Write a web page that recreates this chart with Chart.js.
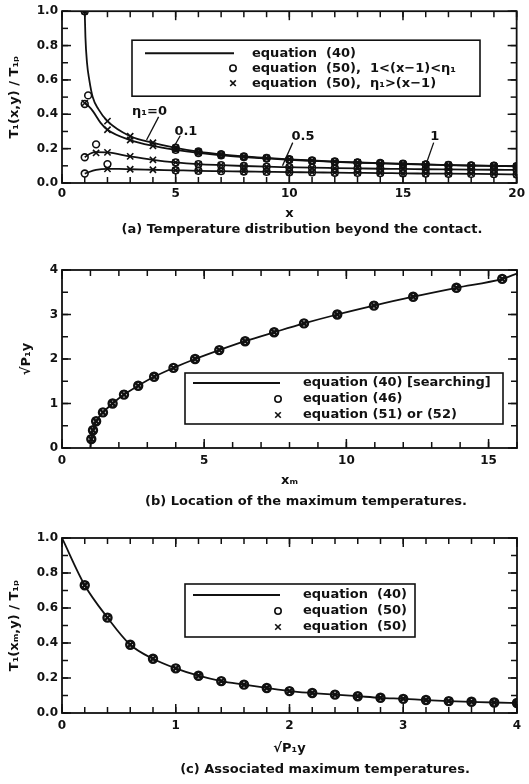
<!DOCTYPE html>
<html>
<head>
<meta charset="utf-8">
<script src="https://cdn.jsdelivr.net/npm/chart.js@4.4.1/dist/chart.umd.min.js"></script>
<style>
  html, body { margin: 0; padding: 0; background: #fff; }
  #wrap { position: relative; width: 529px; height: 784px; }
  canvas { position: absolute; left: 0; }
</style>
</head>
<body>
<div id="wrap">
  <canvas id="chartA" width="529" height="245" style="top:0"></canvas>
  <canvas id="chartB" width="529" height="265" style="top:255px"></canvas>
  <canvas id="chartC" width="529" height="259" style="top:525px"></canvas>
</div>
<script>
// ---- (a) temperature beyond the contact, read at integer x ----
const xInt = [1, 2, 3, 4, 5, 6, 7, 8, 9, 10, 11, 12, 13, 14, 15, 16, 17, 18, 19, 20];
const eta0Vals  = [1.00, 0.360, 0.272, 0.234, 0.205, 0.183, 0.167, 0.155, 0.146, 0.138, 0.131, 0.125, 0.120, 0.116, 0.112, 0.108, 0.105, 0.102, 0.100, 0.098];
const eta01Vals = [0.470, 0.310, 0.250, 0.216, 0.193, 0.175, 0.161, 0.151, 0.143, 0.135, 0.129, 0.123, 0.118, 0.114, 0.110, 0.107, 0.104, 0.101, 0.099, 0.097];
const eta05Vals = [0.150, 0.178, 0.155, 0.135, 0.120, 0.110, 0.104, 0.099, 0.095, 0.092, 0.089, 0.087, 0.085, 0.083, 0.082, 0.080, 0.079, 0.078, 0.077, 0.076];
const eta1Vals  = [0.055, 0.082, 0.080, 0.077, 0.074, 0.071, 0.069, 0.067, 0.065, 0.063, 0.062, 0.060, 0.059, 0.058, 0.056, 0.055, 0.054, 0.053, 0.052, 0.050];
// extra curve points close to the contact (between x=1 and x=2)
const near0X  = [1.03, 1.1, 1.2, 1.35, 1.6];
const near0Y  = [0.85, 0.70, 0.60, 0.50, 0.43];
const near01X = [1.35, 1.7];
const near01Y = [0.42, 0.35];
const near05X = [1.25, 1.5];
const near05Y = [0.172, 0.180];
const near1X  = [1.5, 2.5];
const near1Y  = [0.076, 0.082];
// separate eq.(50) points near the contact
const circNearX = [1, 1, 1, 1, 1.15, 1.5, 2];
const circNearY = [1.0, 0.46, 0.15, 0.055, 0.51, 0.225, 0.11];
const crossNearX = [1, 1, 1.5];
const crossNearY = [1.0, 0.465, 0.175];
const aXTicks = [0, 5, 10, 15, 20];
const aYTicks = [0, 0.2, 0.4, 0.6, 0.8, 1.0];

// ---- (b) location of the maximum temperatures ----
const bDepth = [0.2, 0.4, 0.6, 0.8, 1.0, 1.2, 1.4, 1.6, 1.8, 2.0, 2.2, 2.4, 2.6, 2.8, 3.0, 3.2, 3.4, 3.6, 3.8];
const bXm    = [1.03, 1.09, 1.20, 1.44, 1.78, 2.18, 2.68, 3.24, 3.92, 4.68, 5.53, 6.44, 7.46, 8.51, 9.68, 10.97, 12.35, 13.87, 15.48];
const bLineStart = { x: 1, y: 0 };
const bLineEnd = { x: 16, y: 3.92 };
const bXTicks = [0, 5, 10, 15];
const bYTicks = [0, 1, 2, 3, 4];

// ---- (c) associated maximum temperatures ----
const cDepth = [0.2, 0.4, 0.6, 0.8, 1.0, 1.2, 1.4, 1.6, 1.8, 2.0, 2.2, 2.4, 2.6, 2.8, 3.0, 3.2, 3.4, 3.6, 3.8, 4.0];
const cTemp  = [0.730, 0.545, 0.390, 0.310, 0.255, 0.213, 0.182, 0.162, 0.143, 0.125, 0.114, 0.105, 0.096, 0.087, 0.081, 0.074, 0.068, 0.064, 0.060, 0.057];
const cLineStart = { x: 0, y: 1.0 };
const cXTicks = [0, 1, 2, 3, 4];
const cYTicks = [0, 0.2, 0.4, 0.6, 0.8, 1.0];

const ink = '#111';
const fam = "'DejaVu Sans', sans-serif";

function range(a, b, step) {
  const out = [];
  for (let v = a; v <= b + 1e-9; v += step) out.push(+v.toFixed(4));
  return out;
}
function pts(xs, ys) { return xs.map((x, i) => ({ x: x, y: ys[i] })); }
function merged(xs, ys, exX, exY) {
  return pts(xs, ys).concat(pts(exX, exY)).sort((p, q) => p.x - q.x);
}

function lineDs(data) {
  return { data: data, showLine: true, borderColor: ink, borderWidth: 1.8, pointRadius: 0,
    tension: 0.4, cubicInterpolationMode: 'monotone', fill: false };
}
function markDs(data, style, r, w) {
  return { data: data, showLine: false, pointStyle: style, pointRadius: r || 3.6,
    pointBorderColor: ink, pointBackgroundColor: 'rgba(0,0,0,0)', pointBorderWidth: w || 1.6 };
}

// frame, inward ticks, legend box, curve labels and caption
const decor = {
  id: 'decor',
  afterDatasetsDraw(chart, args, o) {
    const ctx = chart.ctx, a = chart.chartArea, xs = chart.scales.x, ys = chart.scales.y;
    const seg = (x1, y1, x2, y2) => { ctx.beginPath(); ctx.moveTo(x1, y1); ctx.lineTo(x2, y2); ctx.stroke(); };
    ctx.save();
    ctx.strokeStyle = ink;
    ctx.fillStyle = ink;

    ctx.lineWidth = 1.5;
    const xt = (list, len) => list.forEach(v => {
      const p = xs.getPixelForValue(v);
      seg(p, a.bottom, p, a.bottom - len); seg(p, a.top, p, a.top + len);
    });
    const yt = (list, len) => list.forEach(v => {
      const p = ys.getPixelForValue(v);
      seg(a.left, p, a.left + len, p); seg(a.right, p, a.right - len, p);
    });
    xt(o.xMinor, 6); xt(o.xMajor, 9);
    yt(o.yMinor, 6); yt(o.yMajor, 9);

    ctx.lineWidth = 1.8;
    ctx.strokeRect(a.left, a.top, a.right - a.left, a.bottom - a.top);

    // curve labels
    ctx.font = 'bold 13px ' + fam;
    ctx.textAlign = 'center';
    ctx.textBaseline = 'middle';
    ctx.lineWidth = 1.3;
    (o.notes || []).forEach(n => {
      ctx.fillText(n.text, xs.getPixelForValue(n.x), ys.getPixelForValue(n.y));
      seg(xs.getPixelForValue(n.lead[0]), ys.getPixelForValue(n.lead[1]),
          xs.getPixelForValue(n.lead[2]), ys.getPixelForValue(n.lead[3]));
    });

    // legend
    const L = o.legend;
    const bx = a.left + L.dx, by = a.top + L.dy;
    ctx.fillStyle = '#fff';
    ctx.fillRect(bx, by, L.w, L.h);
    ctx.lineWidth = 1.6;
    ctx.strokeRect(bx, by, L.w, L.h);
    ctx.fillStyle = ink;
    ctx.textAlign = 'left';
    L.rows.forEach((r, i) => {
      const y = by + L.rowY[i];
      const mx = bx + L.mark;
      if (r.kind === 'line') {
        ctx.lineWidth = 2; seg(bx + L.lineFrom, y, bx + L.lineTo, y);
      } else if (r.kind === 'circle') {
        ctx.lineWidth = 1.6; ctx.beginPath(); ctx.arc(mx, y, 3.2, 0, Math.PI * 2); ctx.stroke();
      } else {
        ctx.lineWidth = 1.6; seg(mx - 2.8, y - 2.8, mx + 2.8, y + 2.8); seg(mx - 2.8, y + 2.8, mx + 2.8, y - 2.8);
      }
      ctx.fillText(r.text, bx + L.textX, y);
    });

    // caption
    ctx.textAlign = 'center';
    ctx.fillText(o.caption.text, o.caption.x, o.caption.y);
    ctx.restore();
  }
};

function makeOptions(c) {
  return {
    responsive: false,
    animation: false,
    events: [],
    layout: { padding: c.padding },
    scales: {
      x: {
        type: 'linear', min: c.xMin, max: c.xMax,
        grid: { display: false, drawTicks: false }, border: { display: false },
        afterBuildTicks: s => { s.ticks = c.xTicks.map(v => ({ value: v })); },
        afterFit: s => { s.height = c.xHeight; },
        ticks: { autoSkip: false, maxRotation: 0, color: ink, padding: c.xTickPad,
          font: { family: fam, size: 12, weight: 'bold' }, callback: c.xFmt },
        title: { display: true, text: c.xTitle, color: ink, font: { family: fam, size: 13, weight: 'bold' },
          padding: { top: 0, bottom: c.xTitlePad } }
      },
      y: {
        type: 'linear', min: c.yMin, max: c.yMax,
        grid: { display: false, drawTicks: false }, border: { display: false },
        afterBuildTicks: s => { s.ticks = c.yTicks.map(v => ({ value: v })); },
        afterFit: s => { s.width = 62; },
        ticks: { autoSkip: false, color: ink, padding: 4,
          font: { family: fam, size: 12, weight: 'bold' }, callback: c.yFmt },
        title: { display: true, text: c.yTitle, color: ink, font: { family: fam, size: 13, weight: 'bold' },
          padding: { top: c.yTitlePad, bottom: 0 } }
      }
    },
    plugins: {
      legend: { display: false },
      tooltip: { enabled: false },
      decor: {
        xMajor: c.xTicks, xMinor: c.xMinor, yMajor: c.yTicks, yMinor: c.yMinor,
        legend: c.legend, notes: c.notes, caption: c.caption
      }
    }
  };
}

const int = v => String(v);
const one = v => Number(v).toFixed(1);

// ---------- chart (a) ----------
new Chart(document.getElementById('chartA'), {
  type: 'scatter',
  data: {
    datasets: [
      lineDs(merged(xInt, eta0Vals, near0X, near0Y)),
      lineDs(merged(xInt, eta01Vals, near01X, near01Y)),
      lineDs(merged(xInt, eta05Vals, near05X, near05Y)),
      lineDs(merged(xInt, eta1Vals, near1X, near1Y)),
      markDs(pts(xInt.slice(1), eta0Vals.slice(1)), 'crossRot', 4.4),
      markDs(pts(xInt.slice(1), eta01Vals.slice(1)), 'crossRot', 4.4),
      markDs(pts(xInt.slice(1), eta05Vals.slice(1)), 'crossRot', 4.4),
      markDs(pts(xInt.slice(1), eta1Vals.slice(1)), 'crossRot', 4.4),
      markDs(pts(crossNearX, crossNearY), 'crossRot', 4.4),
      markDs(pts(xInt.slice(4), eta0Vals.slice(4)), 'circle', 3.4),
      markDs(pts(xInt.slice(4), eta01Vals.slice(4)), 'circle', 3.4),
      markDs(pts(xInt.slice(4), eta05Vals.slice(4)), 'circle', 3.4),
      markDs(pts(xInt.slice(4), eta1Vals.slice(4)), 'circle', 3.4),
      markDs(pts(circNearX, circNearY), 'circle', 3.4)
    ]
  },
  options: makeOptions({
    padding: { top: 10, right: 9, bottom: 22, left: 0 },
    xMin: 0, xMax: 20, yMin: 0, yMax: 1,
    xTicks: aXTicks, yTicks: aYTicks,
    xMinor: range(0, 20, 1), yMinor: range(0, 1, 0.1),
    xFmt: int, yFmt: one,
    xHeight: 40, xTickPad: 4, xTitlePad: 2,
    xTitle: 'x', yTitle: 'T₁(x,y) / T₁ₚ', yTitlePad: 7,
    legend: {
      dx: 70, dy: 29, w: 348, h: 56, rowY: [13, 28, 43],
      lineFrom: 13, lineTo: 102, mark: 101, textX: 120,
      rows: [
        { kind: 'line', text: 'equation  (40)' },
        { kind: 'circle', text: 'equation  (50),  1<(x−1)<η₁' },
        { kind: 'cross', text: 'equation  (50),  η₁>(x−1)' }
      ]
    },
    notes: [
      { text: 'η₁=0', x: 3.85, y: 0.415, lead: [4.25, 0.385, 3.72, 0.25] },
      { text: '0.1', x: 5.45, y: 0.30, lead: [5.2, 0.275, 4.9, 0.205] },
      { text: '0.5', x: 10.6, y: 0.27, lead: [10.15, 0.235, 9.7, 0.10] },
      { text: '1', x: 16.4, y: 0.27, lead: [16.35, 0.235, 15.9, 0.065] }
    ],
    caption: { text: '(a) Temperature distribution beyond the contact.', x: 302, y: 230 }
  }),
  plugins: [decor]
});

// ---------- chart (b) ----------
new Chart(document.getElementById('chartB'), {
  type: 'scatter',
  data: {
    datasets: [
      lineDs([bLineStart].concat(pts(bXm, bDepth), [bLineEnd])),
      markDs(pts(bXm, bDepth), 'circle', 4, 2.4),
      markDs(pts(bXm, bDepth), 'crossRot', 4.8, 2.4)
    ]
  },
  options: makeOptions({
    padding: { top: 15, right: 12, bottom: 28, left: 0 },
    xMin: 0, xMax: 16, yMin: 0, yMax: 4,
    xTicks: bXTicks, yTicks: bYTicks,
    xMinor: range(0, 16, 1), yMinor: range(0, 4, 0.5),
    xFmt: int, yFmt: int,
    xHeight: 44, xTickPad: 6, xTitlePad: 4,
    xTitle: 'xₘ', yTitle: '√P₁y', yTitlePad: 19,
    legend: {
      dx: 123, dy: 103, w: 318, h: 51, rowY: [10, 26, 42],
      lineFrom: 8, lineTo: 95, mark: 93, textX: 118,
      rows: [
        { kind: 'line', text: 'equation (40) [searching]' },
        { kind: 'circle', text: 'equation (46)' },
        { kind: 'cross', text: 'equation (51) or (52)' }
      ]
    },
    notes: [],
    caption: { text: '(b) Location of the maximum temperatures.', x: 306, y: 247 }
  }),
  plugins: [decor]
});

// ---------- chart (c) ----------
new Chart(document.getElementById('chartC'), {
  type: 'scatter',
  data: {
    datasets: [
      lineDs([cLineStart].concat(pts(cDepth, cTemp))),
      markDs(pts(cDepth, cTemp), 'circle', 4, 2.4),
      markDs(pts(cDepth, cTemp), 'crossRot', 4.8, 2.4)
    ]
  },
  options: makeOptions({
    padding: { top: 13, right: 12, bottom: 27, left: 0 },
    xMin: 0, xMax: 4, yMin: 0, yMax: 1,
    xTicks: cXTicks, yTicks: cYTicks,
    xMinor: range(0, 4, 0.2), yMinor: range(0, 1, 0.1),
    xFmt: int, yFmt: one,
    xHeight: 44, xTickPad: 6, xTitlePad: 1,
    xTitle: '√P₁y', yTitle: 'T₁(xₘ,y) / T₁ₚ', yTitlePad: 7,
    legend: {
      dx: 123, dy: 46, w: 230, h: 53, rowY: [11, 27, 43],
      lineFrom: 8, lineTo: 95, mark: 93, textX: 118,
      rows: [
        { kind: 'line', text: 'equation  (40)' },
        { kind: 'circle', text: 'equation  (50)' },
        { kind: 'cross', text: 'equation  (50)' }
      ]
    },
    notes: [],
    caption: { text: '(c) Associated maximum temperatures.', x: 325, y: 245 }
  }),
  plugins: [decor]
});
</script>
</body>
</html>
